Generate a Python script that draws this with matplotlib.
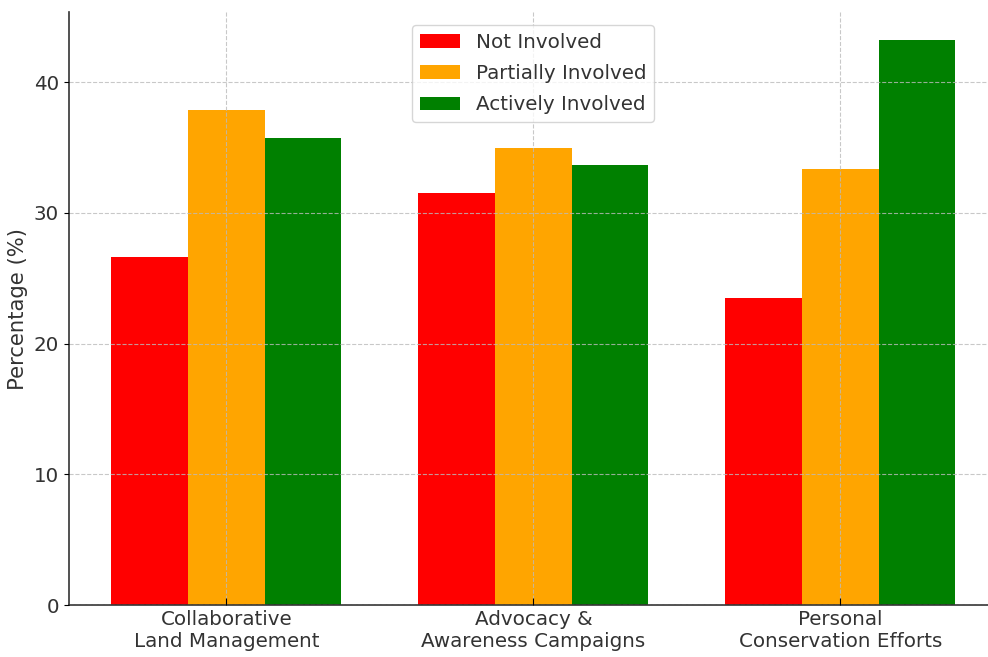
import matplotlib
matplotlib.use("Agg")
import matplotlib.pyplot as plt
import numpy as np

categories = ["Collaborative\nLand Management", "Advocacy &\nAwareness Campaigns", "Personal\nConservation Efforts"]
series_names = ["Not Involved", "Partially Involved", "Actively Involved"]
not_involved = [26.6, 31.55, 23.45]
partially_involved = [37.85, 34.95, 33.35]
actively_involved = [35.7, 33.65, 43.2]
colors = ["red", "orange", "green"]

FS = 14.3
plt.rcParams['font.family'] = ['DejaVu Sans']
fig = plt.figure(figsize=(9.88, 6.57), dpi=100)
ax = fig.add_axes([0.0698, 0.0791, 0.94, 0.9026])

x = np.arange(len(categories))
w = 0.25
for i, (vals, name, c) in enumerate(zip([not_involved, partially_involved, actively_involved], series_names, colors)):
    ax.bar(x + (i - 1) * w, vals, w, label=name, color=c)

ax.set_xticks(x)
ax.set_xticklabels(categories, fontsize=FS, color="#333333")
ax.tick_params(axis='y', labelsize=FS, labelcolor="#333333")
ax.tick_params(axis='x', direction='in', length=5)
ax.set_ylabel("Percentage (%)", fontsize=15.2, color="#333333")
ax.set_yticks([0, 10, 20, 30, 40])
ax.grid(True, linestyle='--', color='#bbbbbb', linewidth=0.8, alpha=0.8)
ax.set_axisbelow(False)
ax.spines['top'].set_visible(False)
ax.spines['right'].set_visible(False)
for s in ['left', 'bottom']:
    ax.spines[s].set_color('#333333')
    ax.spines[s].set_linewidth(1.2)
leg = ax.legend(loc='upper center', fontsize=FS, bbox_to_anchor=(0.5, 0.995), labelspacing=0.62)
for t in leg.get_texts():
    t.set_color("#333333")

fig.savefig("out.png", dpi=100)
